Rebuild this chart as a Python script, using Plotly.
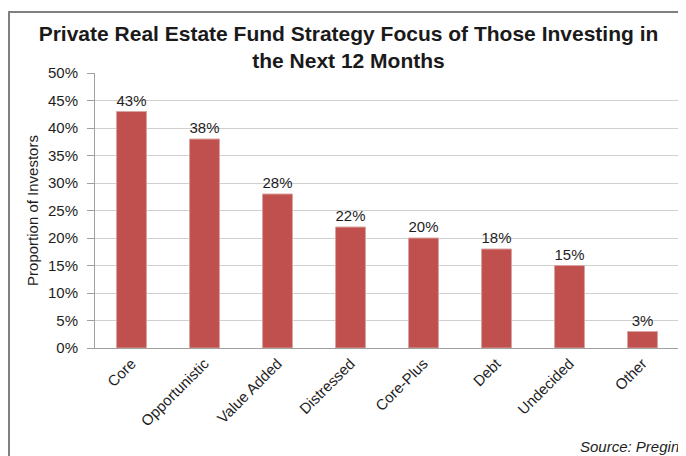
import plotly.graph_objects as go

# data
categories = ["Core", "Opportunistic", "Value Added", "Distressed",
              "Core-Plus", "Debt", "Undecided", "Other"]
values = [43, 38, 28, 22, 20, 18, 15, 3]
y_ticks = [0, 5, 10, 15, 20, 25, 30, 35, 40, 45, 50]
y_tick_labels = [f"{v}%" for v in y_ticks]

# page body margin shifts the figure by 8px, so size it to the visible area
OFF = 8
W, H = 686 - OFF, 456 - OFF
L, T = 95 - OFF, 73 - OFF
pw, ph = 584, 275
R, B = W - L - pw, H - T - ph


def px_x(x):
    # reference pixel -> paper x
    return (x - OFF - L) / pw


def px_y(y):
    return (T + ph - (y - OFF)) / ph


fig = go.Figure()
fig.add_trace(go.Bar(
    x=categories, y=values,
    marker=dict(color="#C0504D", line=dict(color="#D9A3A1", width=1)),
    width=0.41,
    text=[f"{v}%" for v in values], textposition="outside",
    textfont=dict(size=15, color="#1e1e1e"),
    cliponaxis=False,
))

fig.update_layout(
    width=W, height=H,
    margin=dict(l=L, r=R, t=T, b=B, autoexpand=False),
    paper_bgcolor="white", plot_bgcolor="white",
    font=dict(family="Liberation Sans, Arial", size=15, color="#1e1e1e"),
    showlegend=False,
    title=dict(text="<b>Private Real Estate Fund Strategy Focus of Those Investing in<br>the Next 12 Months</b>",
               x=(348.5 - OFF) / W, xanchor="center", xref="container",
               y=1 - 33 / H, yanchor="middle",
               font=dict(size=21, color="#1a1a1a")),
)

fig.update_yaxes(
    range=[0, 50], tickvals=y_ticks, ticktext=y_tick_labels,
    showgrid=True, gridcolor="#D0D0D0", gridwidth=1,
    showline=True, linecolor="#A0A0A0", linewidth=1,
    ticks="outside", ticklen=7, tickcolor="#A0A0A0", ticklabelstandoff=6,
    tickfont=dict(size=15), zeroline=False, automargin=False,
    title=dict(text="Proportion of Investors", font=dict(size=15), standoff=5),
)
fig.update_xaxes(
    showline=True, linecolor="#A0A0A0", linewidth=1,
    tickangle=-45, tickfont=dict(size=15), ticks="", automargin=False,
)

# outer frame
fig.add_shape(type="rect", xref="paper", yref="paper",
              x0=px_x(9), x1=px_x(683), y0=px_y(470), y1=px_y(12),
              line=dict(color="#808080", width=2), fillcolor="rgba(0,0,0,0)")

fig.add_annotation(text="<i>Source: Pregin</i>", xref="paper", yref="paper",
                   x=px_x(681), y=px_y(447), xanchor="right", yanchor="middle",
                   showarrow=False, font=dict(size=15, color="#1e1e1e"))

fig.write_html("out.html")
